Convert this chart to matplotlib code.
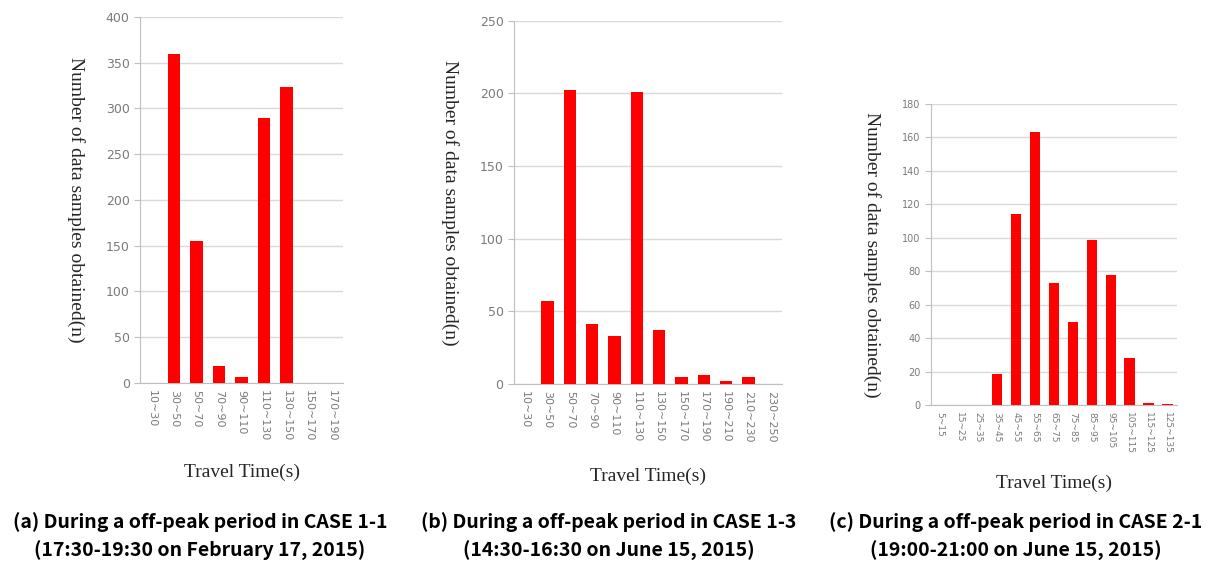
import numpy as np
import matplotlib.pyplot as plt

# panel (a)
cats_a = ["10~30", "30~50", "50~70", "70~90", "90~110", "110~130", "130~150", "150~170", "170~190"]
vals_a = [0, 360, 155, 19, 7, 290, 323, 0, 0]

# panel (b)
cats_b = ["10~30", "30~50", "50~70", "70~90", "90~110", "110~130", "130~150",
          "150~170", "170~190", "190~210", "210~230", "230~250"]
vals_b = [0, 57, 202, 41, 33, 201, 37, 5, 6, 2, 5, 0]

# panel (c)
cats_c = ["5~15", "15~25", "25~35", "35~45", "45~55", "55~65", "65~75",
          "75~85", "85~95", "95~105", "105~115", "115~125", "125~135"]
vals_c = [0, 0, 0, 19, 114, 163, 73, 50, 99, 78, 28, 1.5, 1]

captions = [
    "(a) During a off-peak period in CASE 1-1\n(17:30-19:30 on February 17, 2015)",
    "(b) During a off-peak period in CASE 1-3\n(14:30-16:30 on June 15, 2015)",
    "(c) During a off-peak period in CASE 2-1\n(19:00-21:00 on June 15, 2015)",
]

fig = plt.figure(figsize=(12.2, 5.68), dpi=100)

tick_col = "#7a7a7a"
grid_col = "#d9d9d9"
axis_col = "#bfbfbf"


def draw(rect, cats, vals, ymax, ystep, yfs, xfs, xpad):
    ax = fig.add_axes(rect)
    x = np.arange(len(cats))
    ax.bar(x, vals, width=0.55, color="#ff0000", zorder=3)
    ax.set_xlim(-0.5, len(cats) - 0.5)
    ax.set_ylim(0, ymax)
    ax.set_yticks(np.arange(0, ymax + 1, ystep))
    ax.set_xticks(x)
    ax.set_xticklabels(cats, rotation=-90, fontsize=xfs, color=tick_col)
    ax.tick_params(axis="y", labelsize=yfs, labelcolor=tick_col, color=axis_col, length=4)
    ax.tick_params(axis="x", length=0, pad=5)
    ax.grid(axis="y", color=grid_col, linewidth=1, zorder=0)
    for s in ["top", "right"]:
        ax.spines[s].set_visible(False)
    for s in ["left", "bottom"]:
        ax.spines[s].set_color(axis_col)
    ax.set_ylabel("Number of data samples obtained(n)", rotation=-90,
                  family="Liberation Serif", fontsize=14, color="#262626",
                  labelpad=28, va="bottom")
    ax.set_xlabel("Travel Time(s)", family="Liberation Serif", fontsize=14,
                  color="#262626", labelpad=xpad)
    return ax


draw([0.1148, 0.3257, 0.1664, 0.6444], cats_a, vals_a, 400, 50, 9, 8, 16)
draw([0.4213, 0.3239, 0.2197, 0.6396], cats_b, vals_b, 250, 50, 9, 8, 18)
draw([0.7629, 0.2864, 0.2019, 0.5305], cats_c, vals_c, 180, 20, 7, 6.5, 15)

for xc, cap in zip([200, 609, 1016], captions):
    fig.text(xc / 1220, 1 - 536.5 / 568, cap, ha="center", va="center",
             fontsize=14, fontweight="bold", family="Noto Sans CJK KR",
             linespacing=1.6, color="black")

fig.savefig("out.png", dpi=100)
